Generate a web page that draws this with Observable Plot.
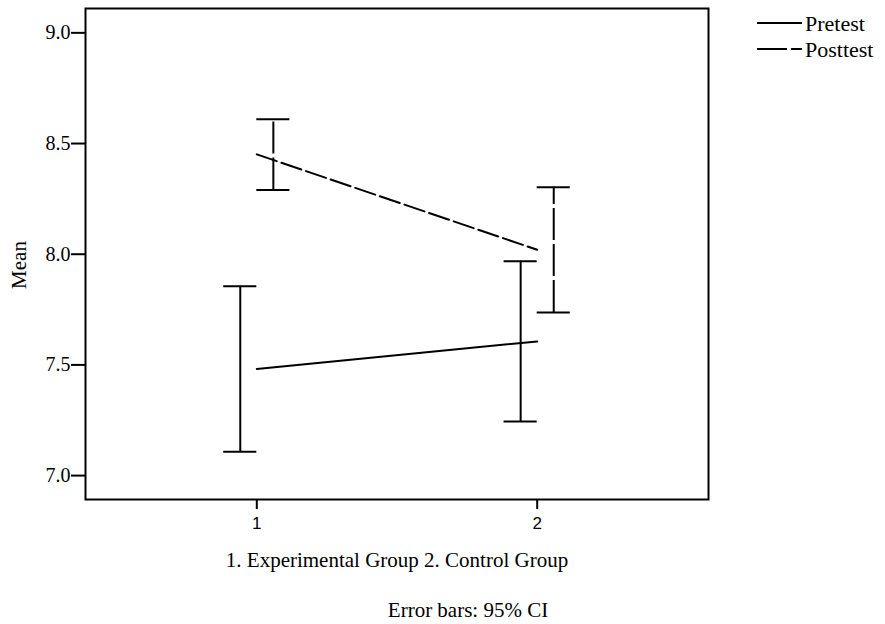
<!DOCTYPE html>
<html><head><meta charset="utf-8">
<script src="https://cdn.jsdelivr.net/npm/d3@7"></script>
<script src="https://cdn.jsdelivr.net/npm/@observablehq/plot@0.6"></script>
<style>
body{margin:0;background:#fff}
#wrap{position:relative;width:885px;height:624px}
#wrap svg{position:absolute;left:0;top:0}
</style></head><body><div id="wrap"></div>
<script>
const groups = [1, 2];
const xTicks = [1, 2];
const yTicks = [7.0, 7.5, 8.0, 8.5, 9.0];
const series = ["Pretest", "Posttest"];
const pretestMean = [7.482, 7.606];
const pretestLow = [7.108, 7.244];
const pretestHigh = [7.855, 7.968];
const posttestMean = [8.451, 8.020];
const posttestLow = [8.290, 7.737];
const posttestHigh = [8.610, 8.302];
const xLabel = "1. Experimental Group 2. Control Group";
const yLabel = "Mean";
const caption = "Error bars: 95% CI";

const rows = [];
groups.forEach((g, i) => {
  rows.push({group: g, test: series[0], mean: pretestMean[i], low: pretestLow[i], high: pretestHigh[i]});
  rows.push({group: g, test: series[1], mean: posttestMean[i], low: posttestLow[i], high: posttestHigh[i]});
});
const pre = rows.filter(d => d.test === series[0]);
const post = rows.filter(d => d.test === series[1]);
const capW = 0.118;

const serif = "'Liberation Serif', 'Times New Roman', serif";
const sans = "'Liberation Sans', Arial, sans-serif";

const plot = Plot.plot({
  width: 885, height: 624,
  marginLeft: 85, marginRight: 177, marginTop: 8, marginBottom: 125,
  x: {domain: [0.389, 2.611]},
  y: {domain: [6.892, 9.11]},
  style: {background: "transparent", color: "#000"},
  marks: [
    Plot.frame({stroke: "#000", strokeWidth: 2}),
    Plot.axisY({ticks: yTicks, tickFormat: d3.format(".1f"), tickSize: 14, tickPadding: 1, fontSize: 20, fontFamily: serif, strokeWidth: 2, label: null}),
    Plot.axisX({ticks: xTicks, tickFormat: d => String(d), tickSize: 10, tickPadding: 7, fontSize: 17, fontFamily: sans, strokeWidth: 2, label: null}),
    Plot.line(pre, {x: "group", y: "mean", stroke: "#000", strokeWidth: 2}),
    Plot.line(post, {x: "group", y: "mean", stroke: "#000", strokeWidth: 2, strokeDasharray: "21,5"}),
    Plot.ruleX(pre, {x: d => d.group - capW / 2, y1: "low", y2: "high", stroke: "#000", strokeWidth: 2}),
    Plot.ruleY(pre, {y: "low", x1: d => d.group - capW, x2: "group", stroke: "#000", strokeWidth: 2}),
    Plot.ruleY(pre, {y: "high", x1: d => d.group - capW, x2: "group", stroke: "#000", strokeWidth: 2}),
    Plot.ruleX(post, {x: d => d.group + capW / 2, y1: "low", y2: "high", stroke: "#000", strokeWidth: 2, strokeDasharray: "32,4"}),
    Plot.ruleY(post, {y: "low", x1: "group", x2: d => d.group + capW, stroke: "#000", strokeWidth: 2}),
    Plot.ruleY(post, {y: "high", x1: "group", x2: d => d.group + capW, stroke: "#000", strokeWidth: 2})
  ]
});
const wrap = document.getElementById("wrap");
wrap.appendChild(plot);

// overlay: axis titles, caption, legend
const ov = d3.create("svg").attr("width", 885).attr("height", 624);
const addText = (sel) => sel.style("font-family", serif).style("fill", "#000");
addText(ov.append("text")).attr("transform", "translate(26,265) rotate(-90)")
  .attr("text-anchor", "middle").style("font-size", "21px").text(yLabel);
addText(ov.append("text")).attr("x", 397).attr("y", 567).attr("text-anchor", "middle")
  .style("font-size", "21px").text(xLabel);
addText(ov.append("text")).attr("x", 468).attr("y", 617).attr("text-anchor", "middle")
  .style("font-size", "21px").text(caption);
const legY = [23, 49];
const legDash = [null, "30,4"];
series.forEach((s, i) => {
  const l = ov.append("line").attr("x1", 757).attr("x2", 802).attr("y1", legY[i]).attr("y2", legY[i])
    .attr("stroke", "#000").attr("stroke-width", 2);
  if (legDash[i]) l.attr("stroke-dasharray", legDash[i]);
  addText(ov.append("text")).attr("x", 805).attr("y", legY[i] + 8).style("font-size", "22px").text(s);
});
wrap.appendChild(ov.node());
</script>
</body></html>
